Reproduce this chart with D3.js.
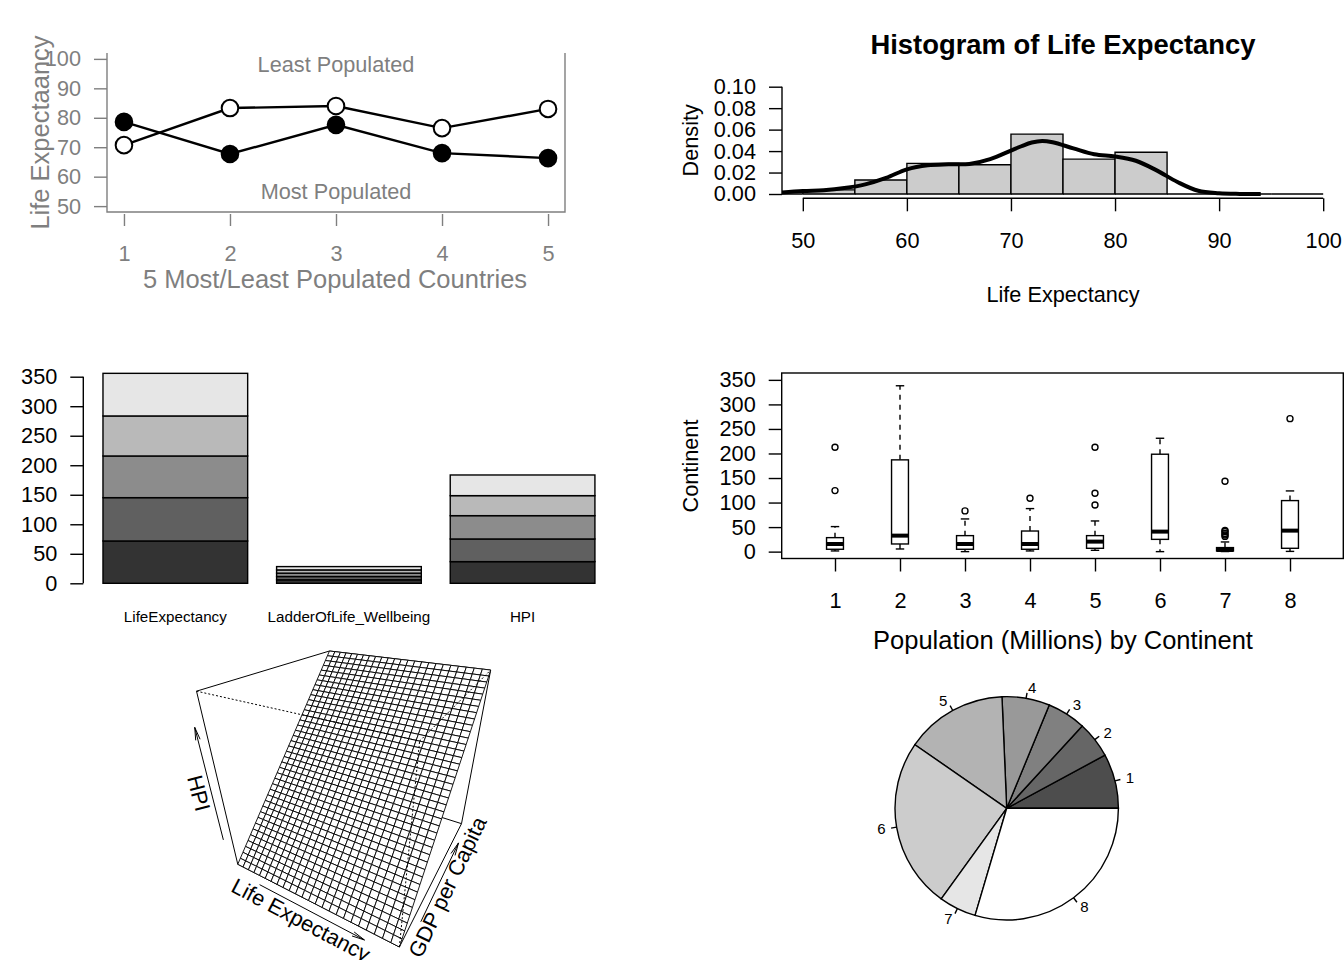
<!DOCTYPE html>
<html lang="en">
<head>
<meta charset="utf-8">
<title>Countries overview</title>
<script src="https://d3js.org/d3.v7.min.js"></script>
<style>
  body { margin: 0; background: #fff; }
  svg { display: block; }
</style>
</head>
<body>
<svg id="chart" width="1344" height="960"></svg>
<script>
// ---------------- data ----------------
// life expectancy of the 5 most / least populated countries
var rankIdx = [1, 2, 3, 4, 5];
var mostPopulated = [78.6, 67.7, 77.6, 68.0, 66.3];
var leastPopulated = [70.7, 83.3, 84.0, 76.5, 83.0];
var lifeTicks = [50, 60, 70, 80, 90, 100];

// histogram of life expectancy (counts per 5-year bin) + density estimate
var histBreaks = [45, 50, 55, 60, 65, 70, 75, 80, 85, 90, 95, 100];
var histCounts = [0, 3, 10, 22, 21, 43, 25, 30, 0, 0, 0];
var densX = [47.5, 50, 52, 54, 56, 58, 60, 62, 64, 66, 68, 70, 71, 72, 73, 74, 76, 78, 80, 82, 84, 86, 88, 90, 92, 94];
var densY = [0.0010, 0.0028, 0.0035, 0.0055, 0.0090, 0.0150, 0.0230, 0.0268, 0.0277, 0.0280, 0.0325, 0.0405, 0.0445, 0.0480, 0.0495, 0.0482, 0.0425, 0.0370, 0.0350, 0.0310, 0.0220, 0.0112, 0.0030, 0.0007, 0.0001, 0.0000];
var densTicks = [0, 0.02, 0.04, 0.06, 0.08, 0.10];
var histTicks = [50, 60, 70, 80, 90, 100];

// stacked bars, five countries per variable (bottom to top)
var barNames = ["LifeExpectancy", "LadderOfLife_Wellbeing", "HPI"];
var lifeStack = [71.7, 73.4, 70.6, 67.8, 72.2];
var ladderStack = [5.9, 5.6, 5.7, 5.5, 5.6];
var hpiStack = [36.7, 38.4, 39.5, 33.9, 35.0];
var barTicks = [0, 50, 100, 150, 200, 250, 300, 350];

// population (millions) by continent: boxplot stats
var continents = [1, 2, 3, 4, 5, 6, 7, 8];
var popLow  = [1.4, 5.4, 0, 1.4, 2.7, 0, 0.2, 0.5];
var popQ1   = [4.8, 15.6, 4.8, 4.8, 6.8, 25, 1.4, 6.8];
var popMed  = [15.6, 32.6, 15.6, 15.6, 20.4, 40.8, 3.4, 42.8];
var popQ3   = [28.5, 187, 32.6, 42, 32.6, 198.5, 8.2, 104];
var popHigh = [51, 338, 66.6, 87.7, 62.5, 231, 19.7, 123.7];
var popOut  = [[212.8, 124.4], [], [83], [108.8], [212.8, 119, 95], [], [31, 34, 37, 41, 43, 143.4], [271]];
var popTicks = [0, 50, 100, 150, 200, 250, 300, 350];

// HPI surface fitted on life expectancy and GDP per capita
var lifeRange = [50, 85];
var gdpRange = [500, 120000];
var gridSize = [25, 41];
var hpiFit = [18.2, 0, 0.00031]; // intercept, life expectancy, GDP per capita

// population share by continent
var pieShares = [7.9, 5.3, 5.6, 6.9, 14.7, 24.7, 5.4, 29.6];
var pieLabels = ["1", "2", "3", "4", "5", "6", "7", "8"];

// ---------------- drawing ----------------
var font = "'Liberation Sans', Arial, sans-serif";
var fs = 21.7;
var grey = "#7f7f7f";
var svg = d3.select("#chart").attr("font-family", font);
svg.append("rect").attr("width", 1344).attr("height", 960).attr("fill", "#fff");

function styleAxis(g, size) {
  g.attr("font-size", size || fs).attr("font-family", font);
  g.selectAll("line").attr("stroke-width", 1.4);
  g.select(".domain").remove();
}
function txt(g, x, y, s, opt) {
  opt = opt || {};
  var t = g.append("text").attr("x", x).attr("y", y).attr("dy", "0.35em")
    .attr("text-anchor", opt.anchor || "middle")
    .attr("font-size", opt.size || fs)
    .attr("fill", opt.fill || "#000")
    .text(s);
  if (opt.bold) t.attr("font-weight", "bold");
  if (opt.rotate != null) t.attr("transform", "rotate(" + opt.rotate + "," + x + "," + y + ")");
  return t;
}

// ===== 1. line chart =====
var p1 = svg.append("g").style("color", grey);
var x1 = d3.scaleLinear().domain([0.84, 5.16]).range([107, 565]);
var y1 = d3.scaleLinear().domain([48, 102]).range([212, 53]);

p1.append("path")
  .attr("d", d3.line()([[x1.range()[0], y1.range()[1]], [x1.range()[0], y1.range()[0]],
                        [x1.range()[1], y1.range()[0]], [x1.range()[1], y1.range()[1]]]))
  .attr("fill", "none").attr("stroke", grey).attr("stroke-width", 1.4);

p1.append("g").attr("transform", "translate(" + x1.range()[0] + ",0)")
  .call(d3.axisLeft(y1).tickValues(lifeTicks).tickSize(13).tickPadding(13))
  .call(styleAxis);

p1.append("g").attr("transform", "translate(0,214)")
  .call(d3.axisBottom(x1).tickValues(rankIdx).tickFormat(d3.format("d")).tickSize(12))
  .call(styleAxis)
  .call(g => g.selectAll("text").attr("y", 39).attr("dy", "0.35em"));

var line1 = d3.line().x((d, i) => x1(rankIdx[i])).y(d => y1(d));
[[mostPopulated, "#000"], [leastPopulated, "#fff"]].forEach(function (s) {
  p1.append("path").attr("d", line1(s[0]))
    .attr("fill", "none").attr("stroke", "#000").attr("stroke-width", 2.4);
  p1.selectAll(null).data(s[0]).enter().append("circle")
    .attr("cx", (d, i) => x1(rankIdx[i])).attr("cy", d => y1(d)).attr("r", 8.3)
    .attr("fill", s[1]).attr("stroke", "#000").attr("stroke-width", 2);
});

txt(p1, x1(3), y1(98), "Least Populated", {fill: grey});
txt(p1, x1(3), y1(55), "Most Populated", {fill: grey});
txt(p1, 335, 279, "5 Most/Least Populated Countries", {fill: grey, size: 25.5});
txt(p1, 40, 132.5, "Life Expectaancy", {fill: grey, size: 25.5, rotate: -90});

// ===== 2. histogram =====
var p2 = svg.append("g");
var x2 = d3.scaleLinear().domain([48, 102]).range([782, 1344]);
var y2 = d3.scaleLinear().domain([-0.004, 0.104]).range([198.3, 82.4]);
svg.append("clipPath").attr("id", "clipHist").append("rect")
  .attr("x", x2.range()[0]).attr("y", y2.range()[1])
  .attr("width", x2.range()[1] - x2.range()[0]).attr("height", y2.range()[0] - y2.range()[1]);

var nObs = d3.sum(histCounts);
var hist = p2.append("g").attr("clip-path", "url(#clipHist)");
hist.selectAll("path.bin").data(histCounts).enter().append("path")
  .attr("class", "bin")
  .attr("d", function (c, i) {
    var w = histBreaks[i + 1] - histBreaks[i];
    var dens = c / (nObs * w);
    var xa = x2(histBreaks[i]), xb = x2(histBreaks[i + 1]);
    return d3.line()([[xa, y2(0)], [xa, y2(dens)], [xb, y2(dens)], [xb, y2(0)], [xa, y2(0)]]);
  })
  .attr("fill", "#cccccc").attr("stroke", "#000").attr("stroke-width", 1.4);

hist.append("path")
  .attr("d", d3.line().x((d, i) => x2(densX[i])).y(d => y2(d)).curve(d3.curveCatmullRom)(densY))
  .attr("fill", "none").attr("stroke", "#000").attr("stroke-width", 4);

p2.append("g").attr("transform", "translate(" + x2.range()[0] + ",0)")
  .call(d3.axisLeft(y2).tickValues(densTicks).tickFormat(d3.format(".2f")).tickSize(13).tickPadding(13))
  .call(styleAxis);
p2.append("line").attr("x1", x2.range()[0]).attr("x2", x2.range()[0])
  .attr("y1", y2(densTicks[0])).attr("y2", y2(densTicks[densTicks.length - 1]))
  .attr("stroke", "#000").attr("stroke-width", 1.4);

p2.append("g").attr("transform", "translate(0," + y2.range()[0] + ")")
  .call(d3.axisBottom(x2).tickValues(histTicks).tickSize(13))
  .call(styleAxis)
  .call(g => g.selectAll("text").attr("y", 41.7).attr("dy", "0.35em"));
p2.append("line").attr("y1", y2.range()[0]).attr("y2", y2.range()[0])
  .attr("x1", x2(histTicks[0])).attr("x2", x2(histTicks[histTicks.length - 1]))
  .attr("stroke", "#000").attr("stroke-width", 1.4);

txt(p2, 1063, 44, "Histogram of Life Expectancy", {size: 27.4, bold: true});
txt(p2, 1063, 294, "Life Expectancy");
txt(p2, 690, 140.3, "Density", {rotate: -90});

// ===== 3. stacked bars =====
var p3 = svg.append("g");
var x3 = d3.scaleLinear().domain([0.064, 3.736]).range([83.3, 614.6]);
var y3 = d3.scaleLinear().domain([0, 350]).range([583.3, 376.7]);
var barGrays = ["#333333", "#606060", "#8c8c8c", "#b9b9b9", "#e6e6e6"];
var levels = d3.range(lifeStack.length);
var stackRows = [lifeStack, ladderStack, hpiStack].map(function (arr) {
  var row = {};
  arr.forEach((v, k) => { row[k] = v; });
  return row;
});
var stacked = d3.stack().keys(levels)(stackRows);
stacked.forEach(function (serie, k) {
  p3.selectAll(null).data(serie).enter().append("rect")
    .attr("x", (d, b) => x3(0.2 + 1.2 * b)).attr("width", x3(1.2) - x3(0.2))
    .attr("y", d => y3(d[1])).attr("height", d => y3(d[0]) - y3(d[1]))
    .attr("fill", barGrays[k]).attr("stroke", "#000").attr("stroke-width", 1.4);
});
barNames.forEach(function (n, b) {
  txt(p3, x3(0.7 + 1.2 * b), 616.7, n, {size: 15.2});
});
p3.append("g").attr("transform", "translate(" + x3.range()[0] + ",0)")
  .call(d3.axisLeft(y3).tickValues(barTicks).tickSize(13).tickPadding(13))
  .call(styleAxis);
p3.append("line").attr("x1", x3.range()[0]).attr("x2", x3.range()[0])
  .attr("y1", y3(0)).attr("y2", y3(350)).attr("stroke", "#000").attr("stroke-width", 1.4);

// ===== 4. boxplot =====
var p4 = svg.append("g");
var x4 = d3.scaleLinear().domain([0.18, 8.82]).range([781.7, 1343.3]);
var y4 = d3.scaleLinear().domain([-14, 364]).range([558.5, 373]);
var boxW = 0.26;
p4.append("rect").attr("x", x4.range()[0]).attr("y", y4.range()[1])
  .attr("width", x4.range()[1] - x4.range()[0]).attr("height", y4.range()[0] - y4.range()[1])
  .attr("fill", "none").attr("stroke", "#000").attr("stroke-width", 1.4);

continents.forEach(function (c, i) {
  var cx = x4(c), hw = (x4(boxW) - x4(0)) / 2;
  var g = p4.append("g").attr("stroke", "#000").attr("stroke-width", 1.4).attr("fill", "none");
  [[popQ3[i], popHigh[i]], [popQ1[i], popLow[i]]].forEach(function (w) {
    g.append("line").attr("x1", cx).attr("x2", cx).attr("y1", y4(w[0])).attr("y2", y4(w[1]))
      .attr("stroke-dasharray", "5,5");
    g.append("line").attr("x1", cx - hw / 2).attr("x2", cx + hw / 2)
      .attr("y1", y4(w[1])).attr("y2", y4(w[1]));
  });
  g.append("rect").attr("x", cx - hw).attr("width", 2 * hw)
    .attr("y", y4(popQ3[i])).attr("height", y4(popQ1[i]) - y4(popQ3[i])).attr("fill", "#fff");
  g.append("line").attr("x1", cx - hw).attr("x2", cx + hw)
    .attr("y1", y4(popMed[i])).attr("y2", y4(popMed[i])).attr("stroke-width", 4);
  g.selectAll("circle").data(popOut[i]).enter().append("circle")
    .attr("cx", cx).attr("cy", d => y4(d)).attr("r", 3);
});

p4.append("g").attr("transform", "translate(" + x4.range()[0] + ",0)")
  .call(d3.axisLeft(y4).tickValues(popTicks).tickSize(13).tickPadding(13))
  .call(styleAxis);
p4.append("g").attr("transform", "translate(0," + y4.range()[0] + ")")
  .call(d3.axisBottom(x4).tickValues(continents).tickSize(13))
  .call(styleAxis)
  .call(g => g.selectAll("text").attr("y", 41.5).attr("dy", "0.35em"));
txt(p4, 1063, 640, "Population (Millions) by Continent", {size: 25.5});
txt(p4, 690, 466, "Continent", {rotate: -90});

// ===== 5. perspective surface =====
var p5 = svg.append("g");
var theta = 30, phi = 30, eyeR = Math.sqrt(3), eyeD = 1;
var th = theta * Math.PI / 180, ph = phi * Math.PI / 180;
function toView(p) {
  var X = p[0] * Math.cos(th) + p[1] * Math.sin(th);
  var q = p[0] * Math.sin(th) - p[1] * Math.cos(th);
  var Y = p[2] * Math.cos(ph) - q * Math.sin(ph);
  var D = p[2] * Math.sin(ph) + q * Math.cos(ph);
  var w = (eyeR + 2 * eyeD - D) / eyeD;
  return [X / w, Y / w, D];
}
var corners = [];
[-1, 1].forEach(a => [-1, 1].forEach(b => [-1, 1].forEach(c => corners.push([a, b, c]))));
var cv = corners.map(toView);
var vx = cv.map(v => v[0]).concat([0]), vy = cv.map(v => v[1]).concat([0]);
var xmin = d3.min(vx), xmax = d3.max(vx), ymin = d3.min(vy), ymax = d3.max(vy);
var reg = {l: 63.6, r: 623.6, t: 651, b: 947};
var sc = Math.min((reg.r - reg.l) / (xmax - xmin), (reg.b - reg.t) / (ymax - ymin));
var xadd = 0.5 * ((reg.r - reg.l) / sc - (xmax - xmin));
var yadd = 0.5 * ((reg.b - reg.t) / sc - (ymax - ymin));
var x5 = d3.scaleLinear().domain([xmin - xadd, xmax + xadd]).range([reg.l, reg.r]);
var y5 = d3.scaleLinear().domain([ymin - yadd, ymax + yadd]).range([reg.b, reg.t]);
function proj(p) { var v = toView(p); return [x5(v[0]), y5(v[1]), v[2]]; }

// grid of fitted HPI values
var lifeSeq = d3.range(gridSize[0]).map(i => lifeRange[0] + i * (lifeRange[1] - lifeRange[0]) / (gridSize[0] - 1));
var gdpSeq = d3.range(gridSize[1]).map(j => gdpRange[0] + j * (gdpRange[1] - gdpRange[0]) / (gridSize[1] - 1));
var zGrid = lifeSeq.map(a => gdpSeq.map(b => hpiFit[0] + hpiFit[1] * a + hpiFit[2] * b));
var zlim = d3.extent(zGrid.flat());
var nxs = d3.scaleLinear().domain(lifeRange).range([-1, 1]);
var nys = d3.scaleLinear().domain(gdpRange).range([-1, 1]);
var nzs = d3.scaleLinear().domain(zlim).range([-1, 1]);

// box edges: the three edges at the nearest corner are front edges (dotted, drawn last)
var near = d3.maxIndex(cv, v => v[2]);
var backEdges = [], frontEdges = [];
corners.forEach(function (a, i) {
  corners.forEach(function (b, j) {
    if (j <= i) return;
    var diff = a.filter((v, k) => v !== b[k]).length;
    if (diff !== 1) return;
    (i === near || j === near ? frontEdges : backEdges).push([proj(a), proj(b)]);
  });
});
p5.selectAll("line.back").data(backEdges).enter().append("line").attr("class", "back")
  .attr("x1", d => d[0][0]).attr("y1", d => d[0][1]).attr("x2", d => d[1][0]).attr("y2", d => d[1][1])
  .attr("stroke", "#000").attr("stroke-width", 1);

var facets = [];
for (var i = 0; i < gridSize[0] - 1; i++) {
  for (var j = 0; j < gridSize[1] - 1; j++) {
    var pts = [[i, j], [i + 1, j], [i + 1, j + 1], [i, j + 1]].map(ab =>
      proj([nxs(lifeSeq[ab[0]]), nys(gdpSeq[ab[1]]), nzs(zGrid[ab[0]][ab[1]])]));
    facets.push({pts: pts, depth: d3.mean(pts, p => p[2])});
  }
}
facets.sort((a, b) => a.depth - b.depth);
p5.selectAll("polygon").data(facets).enter().append("polygon")
  .attr("points", d => d.pts.map(p => p[0] + "," + p[1]).join(" "))
  .attr("fill", "#fff").attr("stroke", "#000").attr("stroke-width", 0.9);

p5.selectAll("line.front").data(frontEdges).enter().append("line").attr("class", "front")
  .attr("x1", d => d[0][0]).attr("y1", d => d[0][1]).attr("x2", d => d[1][0]).attr("y2", d => d[1][1])
  .attr("stroke", "#000").attr("stroke-width", 1).attr("stroke-dasharray", "2,2");

// axis arrows and titles
var perspAxes = [
  {name: "Life Expectancy", edge: [null, -1, -1]},
  {name: "GDP per Capita", edge: [1, null, -1]},
  {name: "HPI", edge: [-1, -1, null]}
];
function axisPt(edge, t, off) {
  return edge.map(e => e === null ? -1 + 2 * t : e + Math.sign(e) * off);
}
perspAxes.forEach(function (ax) {
  var a = proj(axisPt(ax.edge, 0.19, 0.06)), b = proj(axisPt(ax.edge, 0.84, 0.06));
  var ang = Math.atan2(b[1] - a[1], b[0] - a[0]);
  var head = [ang + Math.PI / 18, ang - Math.PI / 18].map(h => [b[0] - 13 * Math.cos(h), b[1] - 13 * Math.sin(h)]);
  p5.append("path")
    .attr("d", "M" + a[0] + "," + a[1] + "L" + b[0] + "," + b[1] +
               "M" + head[0] + "L" + b[0] + "," + b[1] + "L" + head[1])
    .attr("fill", "none").attr("stroke", "#000").attr("stroke-width", 1);
  var deg = ang * 180 / Math.PI;
  if (deg > 90) deg -= 180;
  if (deg < -90) deg += 180;
  var c = proj(axisPt(ax.edge, 0.5, 0.14));
  txt(p5, c[0], c[1], ax.name, {rotate: deg});
});

// ===== 6. pie =====
var p6 = svg.append("g").attr("transform", "translate(1006.7,808.3)");
var pieR = 111.7;
var pieGrays = ["#4d4d4d", "#666666", "#808080", "#999999", "#b3b3b3", "#cccccc", "#e6e6e6", "#ffffff"];
var arcs = d3.pie().sort(null).startAngle(Math.PI / 2).endAngle(Math.PI / 2 - 2 * Math.PI)(pieShares);
var arcGen = d3.arc().innerRadius(0).outerRadius(pieR);
p6.selectAll("path").data(arcs).enter().append("path")
  .attr("d", arcGen).attr("fill", (d, i) => pieGrays[i])
  .attr("stroke", "#000").attr("stroke-width", 1.4);
arcs.forEach(function (a, i) {
  var m = (a.startAngle + a.endAngle) / 2, sx = Math.sin(m), sy = -Math.cos(m);
  p6.append("line").attr("x1", pieR * sx).attr("y1", pieR * sy)
    .attr("x2", 1.05 * pieR * sx).attr("y2", 1.05 * pieR * sy)
    .attr("stroke", "#000").attr("stroke-width", 1.4);
  txt(p6, 1.1 * pieR * sx, 1.1 * pieR * sy, pieLabels[i], {size: 15, anchor: sx > 0 ? "start" : "end"});
});
</script>
</body>
</html>
